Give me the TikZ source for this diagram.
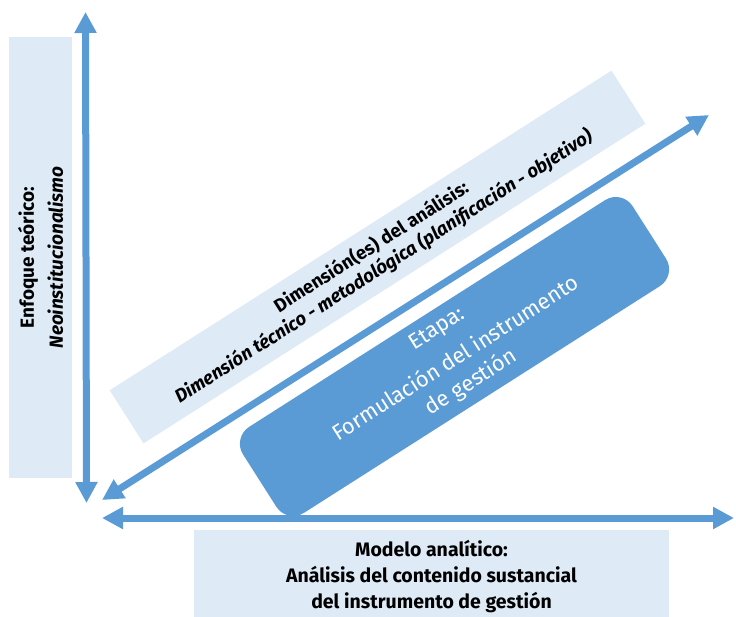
\documentclass[tikz,border=0pt]{standalone}
\usepackage{fontspec}
\setmainfont{Fira Sans}
\usetikzlibrary{arrows.meta,positioning,calc}
\definecolor{axisblue}{HTML}{5B9BD5}
\definecolor{paleblue}{HTML}{DEEBF7}

\begin{document}
\begin{tikzpicture}[x=1pt, y=-1pt, >={Triangle[length=21pt,width=21pt]}]
    \tikzstyle{axis}=[<->, draw=axisblue, line width=7pt]
    \tikzstyle{band}=[fill=paleblue, inner sep=0pt, align=center, text=black, font=\bfseries\fontsize{19}{29}\selectfont]
    \tikzstyle{stage}=[fill=axisblue, rounded corners=20pt, inner sep=0pt, text=white, align=center, font=\fontsize{21.8}{28}\selectfont]
    \useasboundingbox (0,0) rectangle (736,616);

    % boxes
    \node[band, rotate=90, minimum width=441pt, minimum height=63pt] (enfoque) at (40.5,257.5) {Enfoque teórico:\\\textit{Neoinstitucionalismo}};
    \node[band, minimum width=475pt, minimum height=93pt, font=\bfseries\fontsize{19.5}{26}\selectfont] (modelo) at (431.5,576.5) {Modelo analítico:\\Análisis del contenido sustancial\\del instrumento de gestión};
    \node[band, rotate=32.5, minimum width=595pt, minimum height=63pt, font=\bfseries\fontsize{18.6}{23}\selectfont] (dimension) at (377.5,257) {Dimensión(es) del análisis:\\\textit{Dimensión técnico - metodológica (planificación - objetivo)}};
    \node[stage, rotate=32.5, minimum width=462pt, minimum height=102pt] (etapa) at (454.5,356.5) {Etapa:\\[8pt]Formulación del instrumento\\de gestión};

    % axes
    \coordinate (vertTop)   at (85.5,12);
    \coordinate (vertBot)   at (86.5,503);
    \coordinate (horLeft)   at (102,518);
    \coordinate (horRight)  at (734,518);
    \coordinate (diagLow)   at (102,500);
    \coordinate (diagHigh)  at (709,115);

    \draw[axis] (vertTop) -- (vertBot);
    \draw[axis] (horLeft) -- (horRight);
    \draw[axis] (diagLow) -- (diagHigh);
\end{tikzpicture}
\end{document}
